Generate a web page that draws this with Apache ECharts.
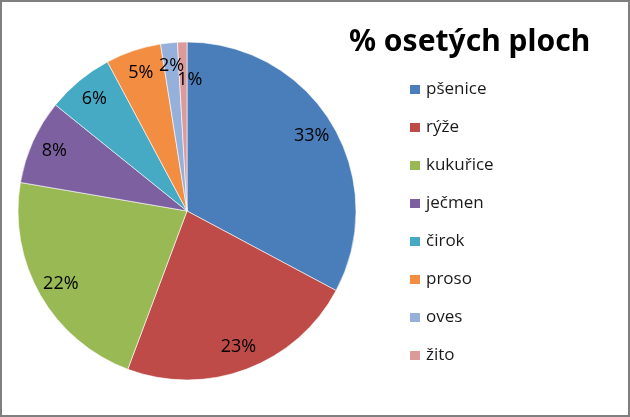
<!DOCTYPE html>
<html lang="cs">
<head>
    <meta charset="UTF-8">
    <title>% osetých ploch</title>
    <script src="https://cdn.jsdelivr.net/npm/echarts@6/dist/echarts.min.js"></script>
    <style>
        html, body {
            margin: 0;
            padding: 0;
            background: #fff;
        }
        #main {
            width: 626px;
            height: 413px;
            border: 2px solid #7f7f7f;
        }
    </style>
</head>
<body>
<div id="main"></div>
<script>
    // plodiny a jejich podíl na osetých plochách
    var crops = ['pšenice', 'rýže', 'kukuřice', 'ječmen', 'čirok', 'proso', 'oves', 'žito'];
    var shares = [32.8, 22.9, 22.0, 8.1, 6.4, 5.3, 1.6, 0.9];
    var colors = ['#4A7EBB', '#BE4B48', '#98B954', '#7D60A0', '#46AAC5', '#F38D42', '#95B1DB', '#DC9A9A'];

    var pieData = [];
    var labelData = [];
    for (var i = 0; i < crops.length; i++) {
        pieData.push({name: crops[i], value: shares[i]});
        labelData.push({name: crops[i], value: shares[i]});
    }
    // nejmenší výseč má popisek posunutý dolů, jako v Excelu
    labelData[labelData.length - 1].label = {offset: [7, 14]};

    var chartDom = document.getElementById('main');
    var myChart = echarts.init(chartDom);

    var option = {
        animation: false,
        color: colors,
        title: {
            text: '% osetých ploch',
            left: 342,
            top: 20,
            textStyle: {
                fontFamily: 'Noto Sans',
                fontSize: 30,
                fontWeight: 'bold',
                color: '#000'
            }
        },
        legend: {
            orient: 'vertical',
            left: 401,
            top: 73,
            itemWidth: 12,
            itemHeight: 11,
            itemGap: 19,
            icon: 'rect',
            data: crops,
            textStyle: {
                fontFamily: 'Open Sans',
                fontSize: 17,
                color: '#1a1a1a',
                lineHeight: 19
            }
        },
        series: [{
            name: 'plochy',
            type: 'pie',
            center: [185, 209],
            radius: 169,
            startAngle: 90,
            clockwise: true,
            label: {show: false},
            labelLine: {show: false},
            itemStyle: {
                borderColor: '#fff',
                borderWidth: 0.6
            },
            emphasis: {disabled: true},
            data: pieData
        }, {
            // popisky v procentech, posunuté blíž k okraji
            name: 'popisky',
            type: 'pie',
            center: [185, 209],
            radius: [116, 169],
            startAngle: 90,
            clockwise: true,
            silent: true,
            legendHoverLink: false,
            itemStyle: {color: 'rgba(0,0,0,0)'},
            label: {
                show: true,
                position: 'inside',
                fontFamily: 'Open Sans',
                fontSize: 18,
                color: '#000',
                formatter: function (p) {
                    return Math.round(p.percent) + '%';
                }
            },
            labelLayout: {hideOverlap: false},
            labelLine: {show: false},
            emphasis: {disabled: true},
            data: labelData
        }]
    };

    myChart.setOption(option);

    window.addEventListener('resize', function () {
        myChart.resize();
    })
</script>
</body>
</html>
